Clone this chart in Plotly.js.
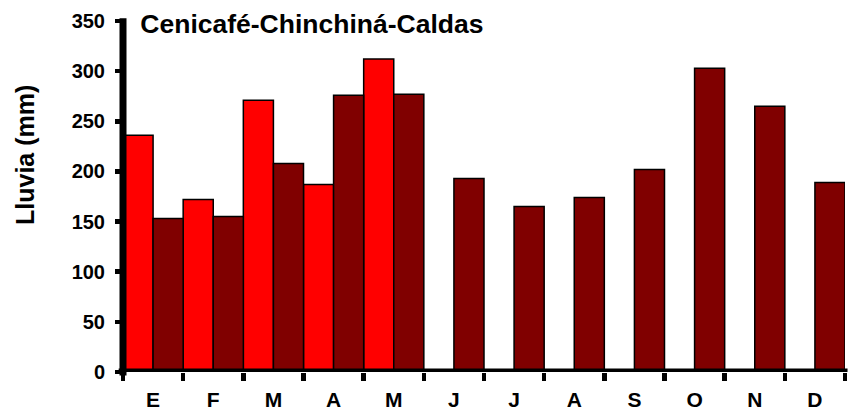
<!DOCTYPE html>
<html>
<head>
<meta charset="utf-8">
<script src="https://cdn.plot.ly/plotly-3.0.1.min.js"></script>
<style>html,body{margin:0;padding:0;background:#fff;}#chart{width:849px;height:415px;}</style>
</head>
<body>
<div id="chart"></div>
<script>
const months = ["E", "F", "M", "A", "M ", "J", "J ", "A ", "S", "O", "N", "D"];
const monthLabels = ["E", "F", "M", "A", "M", "J", "J", "A", "S", "O", "N", "D"];
const seriesRed = [236, 172, 271, 187, 312, null, null, null, null, null, null, null];
const seriesDark = [153, 155, 208, 276, 277, 193, 165, 174, 202, 303, 265, 189];
const yTicks = [0, 50, 100, 150, 200, 250, 300, 350];

const FONT = "Liberation Sans, Arial, Helvetica, sans-serif";
const traces = [
  {type: "bar", x: months, y: seriesRed, name: "Serie 1",
   marker: {color: "#FF0000", line: {color: "#000", width: 1.5}}},
  {type: "bar", x: months, y: seriesDark, name: "Serie 2",
   marker: {color: "#800000", line: {color: "#000", width: 1.5}}}
];
const layout = {
  width: 849, height: 415,
  margin: {l: 123, r: 4, t: 21, b: 43, pad: 0},
  paper_bgcolor: "#fff", plot_bgcolor: "#fff",
  showlegend: false,
  barmode: "group", bargap: 0, bargroupgap: 0,
  font: {family: FONT, color: "#000"},
  title: {text: "Cenicafé-Chinchiná-Caldas", font: {family: FONT, size: 26.5, weight: 700, color: "#000"},
          xref: "paper", x: 0.024, xanchor: "left", yref: "container", y: 1 - 23.5/415, yanchor: "middle"},
  xaxis: {type: "category", tickvals: months, ticktext: monthLabels, range: [-0.5, 11.5],
          showline: false, showgrid: false, zeroline: false,
          ticks: "outside", tickson: "boundaries", ticklen: 8, tickwidth: 4.5, tickcolor: "#000",
          ticklabelstandoff: 13,
          tickfont: {family: FONT, size: 21, weight: 700, color: "#000"}},
  yaxis: {range: [0, 350], tickvals: yTicks, showline: false, showgrid: false, zeroline: false,
          ticks: "outside", ticklen: 7, tickwidth: 4.5, tickcolor: "#000", ticklabelstandoff: 6,
          tickfont: {family: FONT, size: 20, weight: 700, color: "#000"}},
  annotations: [
    {text: "Lluvia (mm)", textangle: -90, showarrow: false,
     xref: "paper", yref: "paper", x: -(123 - 25) / 722, y: (372 - 155) / 351,
     xanchor: "center", yanchor: "middle",
     font: {family: FONT, size: 25, weight: 700, color: "#000"}}
  ],
  shapes: [
    {type: "line", layer: "above", xref: "paper", yref: "y", x0: -0.006, x1: 1.0035, y0: 0, y1: 0,
     line: {color: "#000", width: 7}},
    {type: "line", layer: "above", xref: "paper", yref: "paper", x0: 0, x1: 0, y0: -0.01, y1: 1.008,
     line: {color: "#000", width: 7}}
  ]
};
Plotly.newPlot("chart", traces, layout, {displayModeBar: false, staticPlot: true});
</script>
</body>
</html>
